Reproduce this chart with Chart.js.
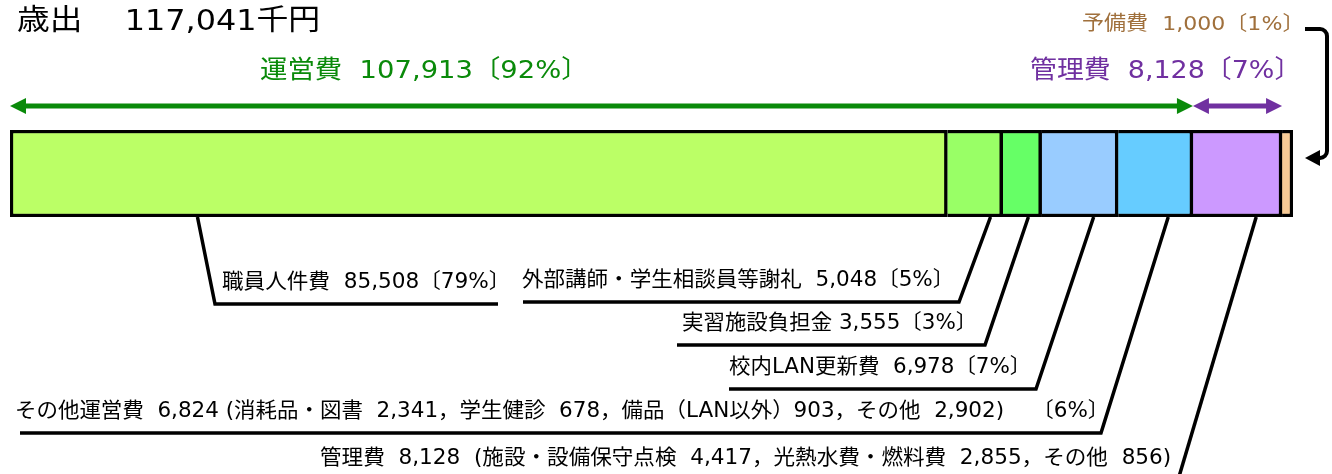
<!DOCTYPE html>
<html>
<head>
<meta charset="utf-8">
<script src="https://cdn.jsdelivr.net/npm/chart.js@4"></script>
<style>
  html, body { margin: 0; padding: 0; background: #fff; }
  canvas { display: block; }
</style>
</head>
<body>
<canvas id="budget" width="1332" height="474"></canvas>
<script>
// 歳出の内訳 (千円)
const categories = ['職員人件費', '外部講師・学生相談員等謝礼', '実習施設負担金', '校内LAN更新費', 'その他運営費', '管理費', '予備費'];
const values = [85508, 5048, 3555, 6978, 6824, 8128, 1000];
const shares = ['79%', '5%', '3%', '7%', '6%', '7%', '1%'];
const totalAmount = 117041;

// グループ (運営費 / 管理費 / 予備費)
const groupNames = ['運営費', '管理費', '予備費'];
const groupValues = [107913, 8128, 1000];
const groupShares = ['92%', '7%', '1%'];

// その他運営費・管理費の内訳
const otherOpsItems = ['消耗品・図書', '学生健診', '備品（LAN以外）', 'その他'];
const otherOpsValues = [2341, 678, 903, 2902];
const mgmtItems = ['施設・設備保守点検', '光熱水費・燃料費', 'その他'];
const mgmtValues = [4417, 2855, 856];

const colors = ['#BBFF66', '#99FF66', '#66FF66', '#99CCFF', '#66CCFF', '#CC99FF', '#F8CB96'];
const FONT = '"DejaVu Sans", "Noto Sans CJK JP", sans-serif';

const fmt = n => n.toLocaleString('en-US');

// 引出し線のレイアウト (frac = セグメント内の位置)
const leaders = [
  { frac: 0.20, bx: 215, by: 304, ux: 498, tx: 222, tw: 274 },
  { frac: 0.78, bx: 959, by: 302, ux: 523, tx: 522, tw: 418 },
  { frac: 0.66, bx: 985, by: 345, ux: 677, tx: 683, tw: 280 },
  { frac: 0.68, bx: 1036, by: 389, ux: 729, tx: 729, tw: 288 },
  { frac: 0.67, bx: 1101, by: 433, ux: 20, tx: 17, tw: 1078 },
  { frac: 0.71, bx: 1178, by: 480, ux: null, tx: 320, tw: 850, ty: 459 }
];

function itemText(name, v) {
  // 全角括弧で終わる項目は空白なし
  return name.endsWith('）') ? `${name}${fmt(v)}` : `${name}  ${fmt(v)}`;
}

function leaderText(i) {
  const v = fmt(values[i]);
  if (i === 4) {
    const parts = otherOpsItems.map((name, k) => itemText(name, otherOpsValues[k]));
    return `${categories[i]}  ${v} (${parts.join('，')})　 〔${shares[i]}〕`;
  }
  if (i === 5) {
    const parts = mgmtItems.map((name, k) => itemText(name, mgmtValues[k]));
    return `${categories[i]}  ${v}  (${parts.join('，')})`;
  }
  const gap = i === 2 ? ' ' : '  ';
  return `${categories[i]}${gap}${v}〔${shares[i]}〕`;
}

// 文字列をインク幅に合わせて描く
function drawText(ctx, str, x, cy, size, color, width) {
  ctx.save();
  ctx.font = `${size}px ${FONT}`;
  ctx.fillStyle = color;
  ctx.textAlign = 'left';
  ctx.textBaseline = 'middle';
  const m = ctx.measureText(str);
  const ink = m.actualBoundingBoxLeft + m.actualBoundingBoxRight;
  const sx = width ? width / ink : 1;
  ctx.translate(x, cy);
  ctx.scale(sx, 1);
  ctx.fillText(str, m.actualBoundingBoxLeft, 0);
  ctx.restore();
}

function arrowHead(ctx, tipX, tipY, dir, len, half) {
  ctx.beginPath();
  ctx.moveTo(tipX, tipY);
  ctx.lineTo(tipX + dir * len, tipY - half);
  ctx.lineTo(tipX + dir * len, tipY + half);
  ctx.closePath();
  ctx.fill();
}

function doubleArrow(ctx, x1, x2, y, color) {
  ctx.save();
  ctx.strokeStyle = color;
  ctx.fillStyle = color;
  ctx.lineWidth = 5;
  ctx.beginPath();
  ctx.moveTo(x1 + 10, y);
  ctx.lineTo(x2 - 10, y);
  ctx.stroke();
  arrowHead(ctx, x1, y, 1, 16, 8);
  arrowHead(ctx, x2, y, -1, 16, 8);
  ctx.restore();
}

const annotationPlugin = {
  id: 'annotations',
  afterDraw(chart) {
    const ctx = chart.ctx;
    const xs = chart.scales.x;
    const area = chart.chartArea;

    // タイトル
    drawText(ctx, '歳出', 17, 22, 29, '#000', 62);
    drawText(ctx, `${fmt(totalAmount)}千円`, 128, 22, 29, '#000', 190);

    // グループ見出し
    drawText(ctx, `${groupNames[0]}  ${fmt(groupValues[0])}〔${groupShares[0]}〕`, 260, 71, 25, '#0A8A0A', 310);
    drawText(ctx, `${groupNames[1]}  ${fmt(groupValues[1])}〔${groupShares[1]}〕`, 1030, 71, 25, '#7030A0', 253);
    drawText(ctx, `${groupNames[2]}  ${fmt(groupValues[2])}〔${groupShares[2]}〕`, 1083, 25, 20, '#A0703C', 206);

    // 範囲矢印
    const g0 = xs.getPixelForValue(0);
    const g1 = xs.getPixelForValue(groupValues[0]);
    const g2 = xs.getPixelForValue(groupValues[0] + groupValues[1]);
    doubleArrow(ctx, g0, g1, 106, '#0A8A0A');
    doubleArrow(ctx, g1, g2, 106, '#7030A0');

    // 予備費への折れ矢印
    ctx.save();
    ctx.strokeStyle = '#000';
    ctx.fillStyle = '#000';
    ctx.lineWidth = 4;
    ctx.lineJoin = 'round';
    ctx.beginPath();
    ctx.moveTo(1305, 29);
    ctx.arcTo(1327, 29, 1327, 60, 7);
    ctx.arcTo(1327, 158, 1300, 158, 7);
    ctx.lineTo(1318, 158);
    ctx.stroke();
    arrowHead(ctx, 1305, 158, 1, 15, 8);
    ctx.restore();

    // 引出し線とラベル
    let start = 0;
    ctx.save();
    ctx.strokeStyle = '#000';
    ctx.lineWidth = 3.5;
    ctx.lineJoin = 'miter';
    leaders.forEach((ld, i) => {
      const ax = xs.getPixelForValue(start + values[i] * ld.frac);
      start += values[i];
      ctx.beginPath();
      ctx.moveTo(ax, area.bottom);
      ctx.lineTo(ld.bx, ld.by);
      if (ld.ux !== null) ctx.lineTo(ld.ux, ld.by);
      ctx.stroke();
      const ty = ld.ty !== undefined ? ld.ty : ld.by - 21;
      drawText(ctx, leaderText(i), ld.tx, ty, 21, '#000', ld.tw);
    });
    ctx.restore();
  }
};

const datasets = categories.map((name, i) => ({
  label: name,
  data: [values[i]],
  backgroundColor: colors[i],
  borderColor: '#000',
  borderWidth: { top: 3.5, bottom: 3.5, left: i === 0 ? 3.5 : 0, right: 3.5 },
  borderSkipped: false,
  barPercentage: 1,
  categoryPercentage: 1
}));

new Chart(document.querySelector('#budget'), {
  type: 'bar',
  data: {
    labels: ['歳出'],
    datasets: datasets
  },
  options: {
    indexAxis: 'y',
    responsive: false,
    animation: false,
    devicePixelRatio: 1,
    layout: {
      padding: { left: 10, right: 39, top: 130, bottom: 257 }
    },
    scales: {
      x: { stacked: true, min: 0, max: totalAmount, display: false },
      y: { stacked: true, display: false }
    },
    plugins: {
      legend: { display: false },
      tooltip: { enabled: false }
    }
  },
  plugins: [annotationPlugin]
});
</script>
</body>
</html>
